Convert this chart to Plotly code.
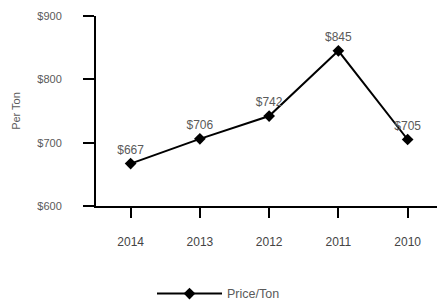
import plotly.graph_objects as go

years = ["2014", "2013", "2012", "2011", "2010"]
prices = [667, 706, 742, 845, 705]
labels = ["$667", "$706", "$742", "$845", "$705"]
y_ticks = [600, 700, 800, 900]
y_tick_text = ["$600", "$700", "$800", "$900"]

fig = go.Figure()
fig.add_trace(go.Scatter(
    x=years, y=prices, mode="lines+markers+text",
    name="Price/Ton",
    text=labels, textposition="top center",
    textfont=dict(size=12, color="#5a5a5a"),
    line=dict(color="black", width=2),
    marker=dict(symbol="diamond", size=9, color="black"),
    cliponaxis=False,
))

fig.update_layout(
    width=437, height=305,
    margin=dict(l=96, r=0, t=16, b=99, autoexpand=False),
    paper_bgcolor="white", plot_bgcolor="white",
    font=dict(family="Liberation Sans, Arial, sans-serif", color="#5a5a5a"),
    showlegend=True,
    legend=dict(orientation="h", xref="container", yref="paper",
                x=0.5, xanchor="center", y=-0.463, yanchor="middle",
                font=dict(size=12.5, color="#5a5a5a"), itemwidth=65),
    xaxis=dict(range=[-0.5, 4.424], showline=True, linecolor="black", linewidth=2,
               ticks="outside", ticklen=10, tickwidth=1.5, tickcolor="black",
               showgrid=False, zeroline=False, ticklabelstandoff=14, automargin=False,
               tickfont=dict(size=12, color="#444444")),
    yaxis=dict(range=[600, 900], tickvals=y_ticks, ticktext=y_tick_text,
               showline=True, linecolor="black", linewidth=2,
               ticks="outside", ticklen=11, tickwidth=1.5, tickcolor="black",
               showgrid=False, zeroline=False, ticklabelstandoff=19, automargin=False,
               tickfont=dict(size=11, color="#5a5a5a"),
               title=dict(text="Per Ton", font=dict(size=11, color="#5a5a5a"), standoff=14)),
)

fig.write_html("out.html", config={"displayModeBar": False},
               post_script="document.body.style.margin='0';")
